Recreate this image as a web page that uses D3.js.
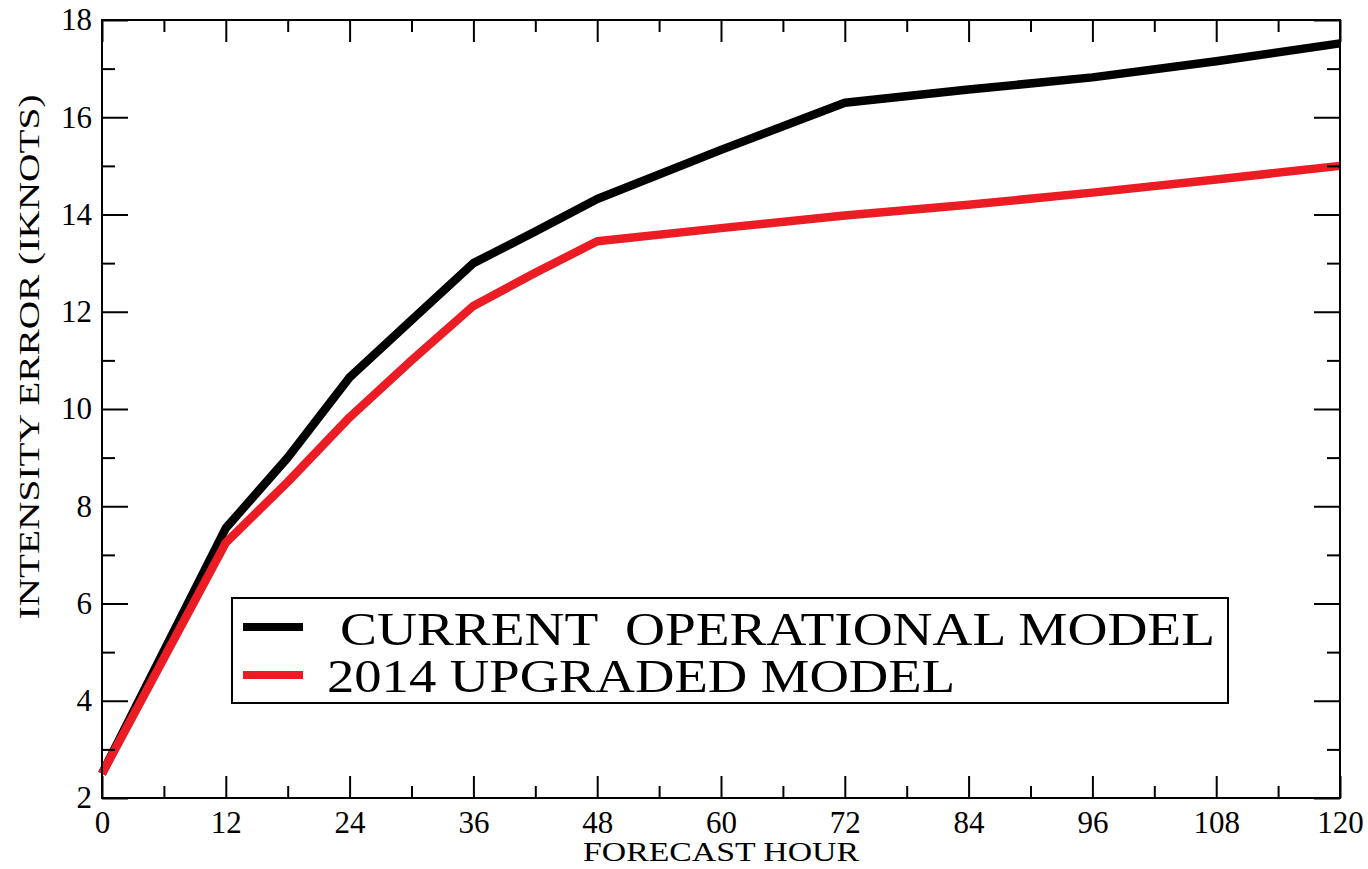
<!DOCTYPE html>
<html>
<head>
<meta charset="utf-8">
<script src="https://cdn.jsdelivr.net/npm/d3@7"></script>
<style>
  html, body { margin: 0; padding: 0; background: #fff; }
  svg { display: block; }
  text { font-family: "Liberation Serif", "Times New Roman", serif; fill: #000; }
</style>
</head>
<body>
<svg id="chart" width="1368" height="869"></svg>
<script>
// Forecast lead times (hours)
const hours = [0, 12, 18, 24, 30, 36, 42, 48, 60, 72, 84, 96, 108, 120];
// Mean intensity error (knots) for each model
const currentModel  = [2.5, 7.55, 9.0, 10.65, 11.83, 13.0, 13.65, 14.32, 15.33, 16.3, 16.57, 16.82, 17.15, 17.52];
const upgradedModel = [2.5, 7.25, 8.5, 9.83, 11.0, 12.12, 12.8, 13.45, 13.72, 13.98, 14.2, 14.45, 14.72, 15.0];

const xMajorTicks = [0, 12, 24, 36, 48, 60, 72, 84, 96, 108, 120];
const xMinorTicks = [6, 18, 30, 42, 54, 66, 78, 90, 102, 114];
const yMajorTicks = [2, 4, 6, 8, 10, 12, 14, 16, 18];
const yMinorTicks = [3, 5, 7, 9, 11, 13, 15, 17];

const seriesNames = ["CURRENT  OPERATIONAL MODEL", "2014 UPGRADED MODEL"];
const seriesColors = ["#000000", "#ec1c24"];

const xLabel = "FORECAST HOUR";
const yLabel = "INTENSITY ERROR (IKNOTS)";

const FONT = '"Liberation Serif", "Times New Roman", serif';
const svg = d3.select("#chart");
const plotL = 102, plotR = 1340, plotT = 20, plotB = 798;

const x = d3.scaleLinear().domain([0, 120]).range([plotL, plotR]);
const y = d3.scaleLinear().domain([2, 18]).range([plotB, plotT]);

// Series lines
const line = d3.line().x((d, i) => x(hours[i])).y(d => y(d));
[currentModel, upgradedModel].forEach((vals, k) => {
  svg.append("path")
    .datum(vals)
    .attr("d", line)
    .attr("fill", "none")
    .attr("stroke", seriesColors[k])
    .attr("stroke-width", 8.5)
    .attr("stroke-linejoin", "round");
});

// Axes with inward ticks on all four sides
const axStyle = g => {
  g.selectAll("path.domain").remove();
  g.selectAll("line").attr("stroke", "#000").attr("stroke-width", 2);
};
const tickFont = g => {
  g.attr("font-family", FONT).attr("font-size", 31);
  g.selectAll("text").attr("fill", "#000");
};

// bottom
svg.append("g").attr("transform", `translate(0,${plotB})`)
  .call(d3.axisBottom(x).tickValues(xMajorTicks).tickSize(-22).tickPadding(13).tickFormat(d3.format("d")))
  .call(axStyle).call(tickFont);
svg.append("g").attr("transform", `translate(0,${plotB})`)
  .call(d3.axisBottom(x).tickValues(xMinorTicks).tickSize(-12).tickFormat(""))
  .call(axStyle);
// top
svg.append("g").attr("transform", `translate(0,${plotT})`)
  .call(d3.axisTop(x).tickValues(xMajorTicks).tickSize(-22).tickFormat(""))
  .call(axStyle);
svg.append("g").attr("transform", `translate(0,${plotT})`)
  .call(d3.axisTop(x).tickValues(xMinorTicks).tickSize(-12).tickFormat(""))
  .call(axStyle);
// left
svg.append("g").attr("transform", `translate(${plotL},0)`)
  .call(d3.axisLeft(y).tickValues(yMajorTicks).tickSize(-26).tickPadding(10).tickFormat(d3.format("d")))
  .call(axStyle).call(tickFont);
svg.append("g").attr("transform", `translate(${plotL},0)`)
  .call(d3.axisLeft(y).tickValues(yMinorTicks).tickSize(-13).tickFormat(""))
  .call(axStyle);
// right
svg.append("g").attr("transform", `translate(${plotR},0)`)
  .call(d3.axisRight(y).tickValues(yMajorTicks).tickSize(-26).tickFormat(""))
  .call(axStyle);
svg.append("g").attr("transform", `translate(${plotR},0)`)
  .call(d3.axisRight(y).tickValues(yMinorTicks).tickSize(-13).tickFormat(""))
  .call(axStyle);

// frame
svg.append("rect")
  .attr("x", plotL).attr("y", plotT)
  .attr("width", plotR - plotL).attr("height", plotB - plotT)
  .attr("fill", "none").attr("stroke", "#000").attr("stroke-width", 2);

// axis titles
svg.append("text")
  .attr("x", (plotL + plotR) / 2).attr("y", 861)
  .attr("text-anchor", "middle")
  .style("font-size", "27px")
  .attr("textLength", 276).attr("lengthAdjust", "spacingAndGlyphs")
  .text(xLabel);

svg.append("text")
  .attr("transform", `translate(39,357) rotate(-90)`)
  .attr("text-anchor", "middle")
  .style("font-size", "30px")
  .attr("textLength", 525).attr("lengthAdjust", "spacingAndGlyphs")
  .text(yLabel);

// legend
const legend = svg.append("g");
legend.append("rect")
  .attr("x", 232).attr("y", 598).attr("width", 996).attr("height", 105)
  .attr("fill", "#fff").attr("stroke", "#000").attr("stroke-width", 2);
const legendRows = [
  { y: 627, textX: 340, baseline: 645, width: 875 },
  { y: 675, textX: 327, baseline: 692, width: 628 }
];
legendRows.forEach((r, k) => {
  legend.append("line")
    .attr("x1", 243).attr("x2", 303).attr("y1", r.y).attr("y2", r.y)
    .attr("stroke", seriesColors[k]).attr("stroke-width", 8);
  legend.append("text")
    .attr("x", r.textX).attr("y", r.baseline)
    .style("font-size", "47px")
    .style("white-space", "pre")
    .attr("xml:space", "preserve")
    .attr("textLength", r.width).attr("lengthAdjust", "spacingAndGlyphs")
    .text(seriesNames[k]);
});
</script>
</body>
</html>
